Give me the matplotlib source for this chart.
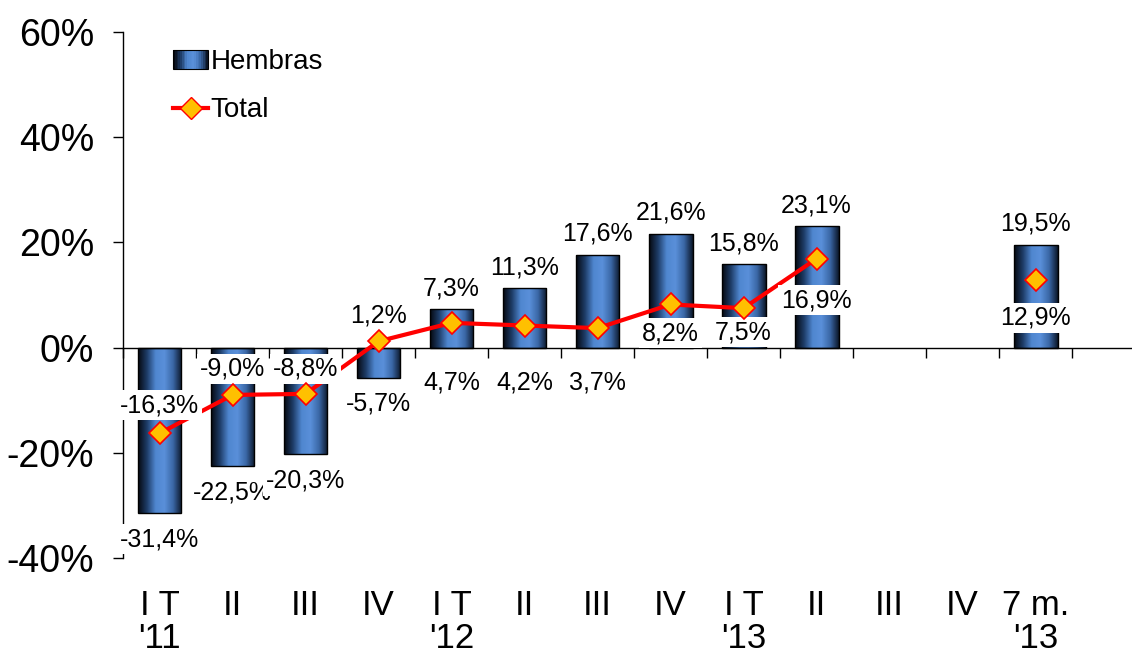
import numpy as np
import matplotlib
matplotlib.use('Agg')
import matplotlib.pyplot as plt
from matplotlib.colors import LinearSegmentedColormap
from matplotlib.patches import Rectangle
from matplotlib.legend_handler import HandlerBase

plt.rcParams['font.family'] = ['Liberation Sans', 'DejaVu Sans']

# Data (percent, year-on-year)
categories = ["I T\n'11", "II", "III", "IV", "I T\n'12", "II", "III", "IV",
              "I T\n'13", "II", "III", "IV", "7 m.\n'13"]
hembras = [-31.4, -22.5, -20.3, -5.7, 7.3, 11.3, 17.6, 21.6, 15.8, 23.1,
           np.nan, np.nan, 19.5]
total = [-16.3, -9.0, -8.8, 1.2, 4.7, 4.2, 3.7, 8.2, 7.5, 16.9,
         np.nan, np.nan, 12.9]
# where the "Total" value labels sit (data units)
total_label_y = [-11.0, -4.0, -4.0, 6.1, -6.7, -6.7, -6.7, 2.7, 2.9, 9.0,
                 np.nan, np.nan, 5.7]

bar_cmap = LinearSegmentedColormap.from_list(
    'cyl', ['#05080f', '#1d3b66', '#4f86cf', '#5a90da', '#3a67a6', '#0b1628'])


def fmt(v):
    return f"{v:.1f}%".replace('.', ',')


class GradientHandler(HandlerBase):
    def create_artists(self, legend, orig_handle, xdescent, ydescent,
                       width, height, fontsize, trans):
        arts = []
        n = 20
        for i in range(n):
            r = Rectangle((xdescent + i * width / n, -ydescent), width / n, height,
                          facecolor=bar_cmap(i / (n - 1)), edgecolor='none',
                          transform=trans)
            arts.append(r)
        arts.append(Rectangle((xdescent, -ydescent), width, height, fill=False,
                              edgecolor='black', lw=0.8, transform=trans))
        return arts


fig = plt.figure(figsize=(11.32, 6.53), dpi=100)
ax = fig.add_axes([0.1087, 0.1455, 0.8913, 0.8055])

x = np.arange(len(categories))
bars = ax.bar(x, hembras, width=0.6, color='none', edgecolor='black',
              linewidth=1.0, zorder=2, label='Hembras')

grad = np.linspace(0, 1, 256).reshape(1, -1)
for rect in bars:
    h = rect.get_height()
    if np.isnan(h):
        continue
    x0 = rect.get_x()
    im = ax.imshow(grad, cmap=bar_cmap, aspect='auto', zorder=1.9,
                   extent=[x0, x0 + rect.get_width(), min(0, h), max(0, h)])
    im.set_clip_path(rect)

t = np.array(total)
ax.plot(x[:10], t[:10], color='#ff0000', lw=3, zorder=3)
ax.plot(x, t, linestyle='none', marker='D', markersize=11,
        markerfacecolor='#ffc000', markeredgecolor='#ff0000',
        markeredgewidth=1.2, zorder=6)

box = dict(boxstyle='square,pad=0.12', facecolor='white', edgecolor='none')
for xi, v in zip(x, hembras):
    if np.isnan(v):
        continue
    y = v + 4.0 if v > 0 else v - 5.0
    ax.text(xi, y, fmt(v), ha='center', va='center', fontsize=18,
            bbox=box, zorder=5, clip_on=False)
for xi, v, ly in zip(x, total, total_label_y):
    if np.isnan(v):
        continue
    ax.text(xi, ly, fmt(v), ha='center', va='center', fontsize=18,
            bbox=box, zorder=5, clip_on=False)

ax.set_xlim(-0.5, 13.32)
ax.set_ylim(-40, 60)
ax.set_yticks([-40, -20, 0, 20, 40, 60])
ax.set_yticklabels([f"{v}%" for v in [-40, -20, 0, 20, 40, 60]], fontsize=27)
ax.tick_params(axis='y', length=7, width=1, direction='out', pad=14)

ax.spines['top'].set_visible(False)
ax.spines['right'].set_visible(False)
ax.spines['bottom'].set_position(('data', 0))
ax.spines['left'].set_linewidth(1)
ax.spines['bottom'].set_linewidth(1)
ax.set_xticks([])
ax.set_xticks(np.arange(-0.5, 13, 1), minor=True)
ax.tick_params(axis='x', which='minor', length=7, width=1, direction='out',
               labelbottom=False)

sec = ax.secondary_xaxis('bottom')
sec.set_xticks(x)
sec.set_xticklabels(categories, fontsize=25, linespacing=1.0)
sec.tick_params(length=0, pad=22)
sec.spines['bottom'].set_visible(False)

handles = [Rectangle((0, 0), 1, 1),
           plt.Line2D([], [], color='#ff0000', lw=3, marker='D', markersize=11,
                      markerfacecolor='#ffc000', markeredgecolor='#ff0000')]
ax.legend(handles, ['Hembras', 'Total'], loc='upper left',
          bbox_to_anchor=(0.025, 1.015), frameon=False, fontsize=20,
          handler_map={Rectangle: GradientHandler()},
          handlelength=1.25, handletextpad=0.1, labelspacing=0.8)

fig.savefig('out.png', dpi=100)
